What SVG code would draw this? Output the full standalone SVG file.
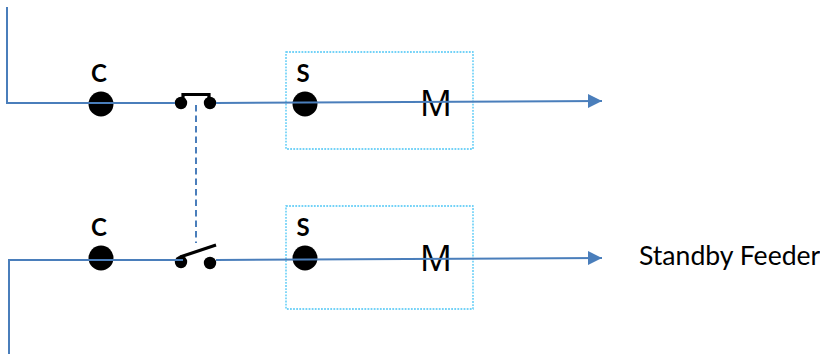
<svg xmlns="http://www.w3.org/2000/svg" width="820" height="354" viewBox="0 0 820 354">
<style>
.wire{fill:none;stroke:#4a7ebb;stroke-width:2}
.box{fill:none;stroke:#45c4f5;stroke-width:1.300;stroke-dasharray:1.800 1.300}
.dot{fill:#000}
.bar{fill:none;stroke:#000;stroke-width:3.200}
.b{font-family:Lato,"Liberation Sans",sans-serif;font-size:24px;font-weight:700;fill:#000;text-anchor:middle}
.m{font-family:"Open Sans","Liberation Sans",sans-serif;font-size:36px;fill:#000;text-anchor:middle}
.t{font-family:Lato,"Liberation Sans",sans-serif;font-size:26.600px;fill:#000}
</style>
<defs><marker id="a" markerUnits="userSpaceOnUse" markerWidth="16" markerHeight="16" refX="14" refY="7" orient="auto"><path d="M0 0L14 7L0 14Z" fill="#4a7ebb"/></marker></defs>
<g id="box-top"><rect class="box" x="286" y="52" width="187" height="97"/></g>
<g id="box-bottom"><rect class="box" x="286" y="206" width="187" height="103"/></g>
<g id="node-c1"><circle class="dot" cx="101" cy="104" r="12.500"/><text class="b" x="99" y="82">C</text></g>
<g id="node-s1"><circle class="dot" cx="305" cy="104" r="12.500"/><text class="b" x="303" y="82">S</text></g>
<g id="node-m1"><text class="m" x="436" y="116">M</text></g>
<g id="switch-closed"><circle class="dot" cx="181" cy="103" r="6.200"/><circle class="dot" cx="210" cy="103" r="6.200"/><path class="bar" d="M183 100V94.500H209V100"/></g>
<g id="node-c2"><circle class="dot" cx="101" cy="258" r="12.500"/><text class="b" x="99" y="236">C</text></g>
<g id="node-s2"><circle class="dot" cx="305" cy="258" r="12.500"/><text class="b" x="303" y="236">S</text></g>
<g id="node-m2"><text class="m" x="436" y="271">M</text></g>
<g id="switch-open"><circle class="dot" cx="181" cy="262" r="6.200"/><circle class="dot" cx="210" cy="263" r="6.200"/><path class="bar" d="M180 257L216 245"/></g>
<g id="label"><text class="t" x="639" y="265">Standby Feeder</text></g>
<g id="connectors">
<path class="wire" d="M7 7V103H175"/>
<path class="wire" marker-end="url(#a)" d="M216 103L602 101"/>
<path class="wire" d="M9 354V260H183"/>
<path class="wire" marker-end="url(#a)" d="M216 260L602 258"/>
<path class="wire" stroke-dasharray="6.500 4" d="M196 105V243"/>
</g>
</svg>
